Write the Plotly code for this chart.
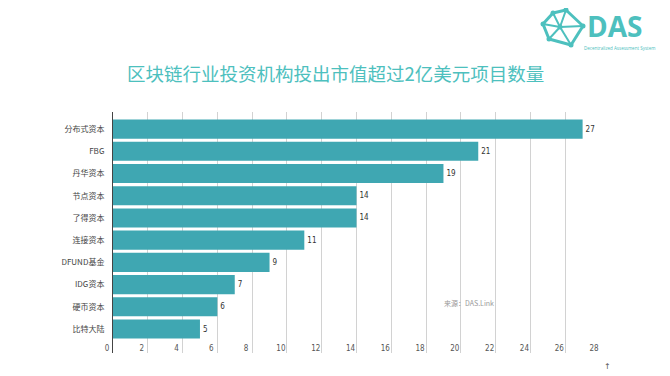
import plotly.graph_objects as go

categories = ["分布式资本", "FBG", "丹华资本", "节点资本", "了得资本", "连接资本", "DFUND基金", "IDG资本", "硬币资本", "比特大陆"]
values = [27, 21, 19, 14, 14, 11, 9, 7, 6, 5]
x_ticks = list(range(0, 29, 2))

TEAL = "#3FA7B2"
TITLE_TEAL = "#4DC0BE"
OFF = 8  # page body margin
W, H = 670 - OFF, 376 - OFF
L, R, T, B = 113 - OFF, 600 - OFF, 112 - OFF, 353 - OFF

def px(x):
    return (x - OFF - L) / (R - L)

def py(y):
    return 1 - (y - OFF - T) / (B - T)

fig = go.Figure()
fig.add_trace(go.Bar(
    y=categories, x=values, orientation="h",
    marker=dict(color=TEAL, line=dict(width=0)),
    width=0.86,
    text=[str(v) for v in values], textposition="outside",
    textfont=dict(size=8, color="#333333", family="DejaVu Sans Condensed"),
    cliponaxis=False,
))

shapes = []
nodes = [(553, 13), (566, 10), (583, 26), (571, 45), (549, 39), (543, 24)]
center = (560, 27)
for i in range(len(nodes)):
    a = nodes[i]; b = nodes[(i + 1) % len(nodes)]
    shapes.append(dict(type="line", xref="paper", yref="paper", x0=px(a[0]), y0=py(a[1]), x1=px(b[0]), y1=py(b[1]), line=dict(color=TITLE_TEAL, width=3)))
    shapes.append(dict(type="line", xref="paper", yref="paper", x0=px(a[0]), y0=py(a[1]), x1=px(center[0]), y1=py(center[1]), line=dict(color=TITLE_TEAL, width=2)))
for n in nodes + [center]:
    shapes.append(dict(type="circle", xref="paper", yref="paper", x0=px(n[0] - 2.5), x1=px(n[0] + 2.5), y0=py(n[1] + 2.5), y1=py(n[1] - 2.5), fillcolor=TITLE_TEAL, line=dict(width=0)))

annotations = [
    dict(text="区块链行业投资机构投出市值超过2亿美元项目数量", xref="paper", yref="paper", x=px(335), y=py(73), xanchor="center", yanchor="middle", showarrow=False, font=dict(size=18.5, color=TITLE_TEAL, family="Noto Sans CJK SC")),
    dict(text="<b>DAS</b>", xref="paper", yref="paper", x=px(585), y=py(26), xanchor="left", yanchor="middle", showarrow=False, font=dict(size=28, color=TITLE_TEAL, family="Open Sans")),
    dict(text="Decentralized Assessment System", xref="paper", yref="paper", x=px(619), y=py(47.5), xanchor="center", yanchor="middle", showarrow=False, font=dict(size=4.5, color=TITLE_TEAL, family="Open Sans")),
    dict(text="来源：DAS.Link", xref="paper", yref="paper", x=px(442), y=py(303), xanchor="left", yanchor="middle", showarrow=False, font=dict(size=7, color="#999999", family="Noto Sans CJK SC")),
    dict(text="↑", xref="paper", yref="paper", x=px(607), y=py(366), xanchor="center", yanchor="middle", showarrow=False, font=dict(size=8, color="#555555", family="DejaVu Sans")),
]

fig.update_layout(
    width=W, height=H,
    margin=dict(l=L, r=W - R, t=T, b=H - B, pad=0, autoexpand=False),
    paper_bgcolor="white", plot_bgcolor="white",
    showlegend=False,
    shapes=shapes,
    annotations=annotations,
    xaxis=dict(
        range=[0, 28], tickvals=x_ticks, ticktext=[str(v) for v in x_ticks],
        showgrid=True, gridcolor="#D2D2D2", gridwidth=1, zeroline=False,
        ticks="", ticklabelposition="outside", ticklabelstandoff=-11, ticklabelshift=-6,
        tickfont=dict(size=8, color="#555555", family="DejaVu Sans Condensed"),
        showline=False, fixedrange=True, automargin=False,
    ),
    yaxis=dict(
        categoryorder="array", categoryarray=categories,
        range=[10.08, -0.77],
        showline=True, linecolor="#444444", linewidth=1,
        ticks="", showgrid=False, ticklabelstandoff=6,
        tickfont=dict(size=8, color="#444444", family="Noto Sans CJK SC"),
        fixedrange=True, automargin=False,
    ),
    font=dict(family="Noto Sans CJK SC"),
)

fig.write_html("out.html")
